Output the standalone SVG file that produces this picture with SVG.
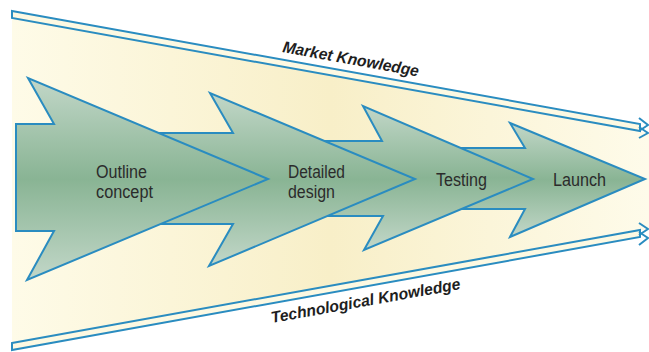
<svg xmlns="http://www.w3.org/2000/svg" width="649" height="352" viewBox="0 0 649 352">
  <defs>
    <linearGradient id="band" x1="0" y1="0" x2="1" y2="0">
      <stop offset="0" stop-color="#fefbe8"/>
      <stop offset="0.5" stop-color="#f8efc8"/>
      <stop offset="1" stop-color="#fefbea"/>
    </linearGradient>
    <linearGradient id="green" x1="0" y1="0" x2="0" y2="1">
      <stop offset="0" stop-color="#c2d7c8"/>
      <stop offset="0.5" stop-color="#89b494"/>
      <stop offset="1" stop-color="#c2d7c8"/>
    </linearGradient>
    <style>
      .stage { fill: url(#green); stroke: #2a8cc0; stroke-width: 2; stroke-linejoin: miter; }
      .shaft { fill: #fdf9e2; stroke: #2a8cc0; stroke-width: 2; stroke-linejoin: miter; }
      .head { fill: none; stroke: #2a8cc0; stroke-width: 2; }
      .lbl { font-family: "Liberation Sans", Arial, sans-serif; font-size: 17.5px; fill: #2b2b2b; }
      .klbl { font-family: "Liberation Sans", Arial, sans-serif; font-size: 16px; font-weight: bold; font-style: italic; fill: #1e1e1e; }
    </style>
  </defs>

  <!-- yellow funnel background -->
  <polygon points="12,18 649,133 649,229 12,343" fill="url(#band)"/>

  <g id="knowledge-arrows">
    <g id="market-knowledge">
      <polygon class="shaft" points="12,11 640,124 640,131 12,18"/>
      <polyline class="head" points="639,118 648,125 639,131"/>
      <polyline class="head" points="639,127 648,133 639,138"/>
      <text class="klbl" x="282" y="52" textLength="138" lengthAdjust="spacingAndGlyphs" transform="rotate(10.2 282 52)">Market Knowledge</text>
    </g>
    <g id="technological-knowledge">
      <polygon class="shaft" points="12,343 640,230 640,237 12,350"/>
      <polyline class="head" points="639,223 648,229 639,235"/>
      <polyline class="head" points="639,232 648,238 639,245"/>
      <text class="klbl" x="272" y="323" textLength="192" lengthAdjust="spacingAndGlyphs" transform="rotate(-10.2 272 323)">Technological Knowledge</text>
    </g>
  </g>

  <g id="launch">
    <polygon class="stage" points="430,148 525,148 510,123 645,179 510,237 525,209 430,209"/>
    <text class="lbl" x="553" y="186" textLength="53" lengthAdjust="spacingAndGlyphs">Launch</text>
  </g>
  <g id="testing">
    <polygon class="stage" points="300,141 382,141 363,106 533,179 364,250 383,216 300,216"/>
    <text class="lbl" x="436" y="186" textLength="51" lengthAdjust="spacingAndGlyphs">Testing</text>
  </g>
  <g id="detailed-design">
    <polygon class="stage" points="100,133 233,133 210,93 415,179 209,266 233,224 100,224"/>
    <text class="lbl" x="288" y="178" textLength="57" lengthAdjust="spacingAndGlyphs">Detailed</text>
    <text class="lbl" x="288" y="198" textLength="47" lengthAdjust="spacingAndGlyphs">design</text>
  </g>
  <g id="outline-concept">
    <polygon class="stage" points="16,124 54,124 28,78 268,179 27,280 54,231 16,231"/>
    <text class="lbl" x="96" y="178" textLength="51" lengthAdjust="spacingAndGlyphs">Outline</text>
    <text class="lbl" x="96" y="198" textLength="57" lengthAdjust="spacingAndGlyphs">concept</text>
  </g>
</svg>
